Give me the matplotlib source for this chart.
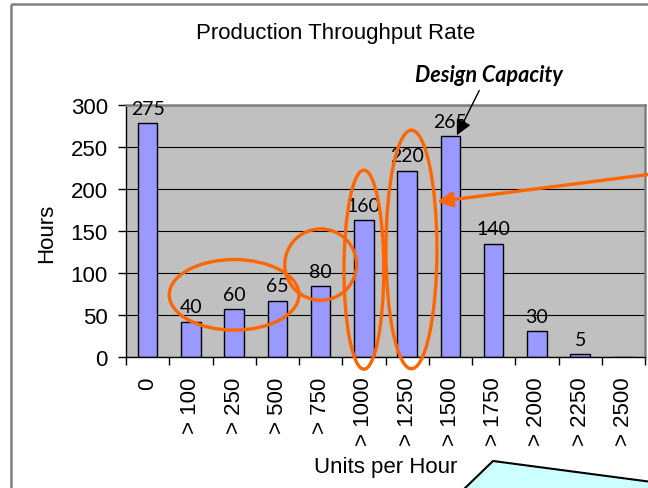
import matplotlib
matplotlib.use("Agg")
import matplotlib.pyplot as plt
from matplotlib.patches import Ellipse, Polygon, Rectangle
import numpy as np

categories = ["0", "> 100", "> 250", "> 500", "> 750", "> 1000", "> 1250",
              "> 1500", "> 1750", "> 2000", "> 2250", "> 2500"]
hours = [278, 42, 57, 67, 84, 163, 222, 263, 135, 31, 3, 0]
value_labels = ["275", "40", "60", "65", "80", "160", "220", "265", "140", "30", "5", ""]
yticks = [0, 50, 100, 150, 200, 250, 300]

W, H = 648, 489
fig = plt.figure(figsize=(W / 100, H / 100), dpi=100)
fig.patch.set_facecolor("white")

# overlay in pixel coordinates for decorations outside the plot
ov = fig.add_axes([0, 0, 1, 1], zorder=0)
ov.set_xlim(0, W)
ov.set_ylim(H, 0)
ov.axis("off")
ov.add_patch(Rectangle((11, 5), 700, 600, fill=False, edgecolor="#808080", lw=1.8, clip_on=False))
ov.add_patch(Polygon([(462, 492), (493, 462), (652, 483), (652, 492)], closed=True,
                     facecolor="#ccffff", edgecolor="black", lw=1.5, clip_on=False))

left, right, top, bottom = 126, 645, 106, 358
ax = fig.add_axes([left / W, 1 - bottom / H, (right - left) / W, (bottom - top) / H], zorder=2)
ax.set_facecolor("#c0c0c0")
x = np.arange(len(categories))
ax.bar(x, hours, width=0.45, color="#9999ff", edgecolor="black", linewidth=1.0, zorder=2)
ax.set_xlim(-0.5, len(categories) - 0.5)
ax.set_ylim(0, 300)
ax.set_axisbelow(True)
ax.yaxis.grid(True, color="black", linewidth=0.8)

for xi, h, lab in zip(x, hours, value_labels):
    if lab:
        ax.annotate(lab, (xi, h), xytext=(0, 4.5), textcoords="offset points",
                    ha="center", va="bottom", fontsize=14, family="Lato", zorder=4)

ax.set_yticks(yticks)
ax.set_yticklabels([str(v) for v in yticks], fontsize=16, family="Liberation Sans")
ax.set_xticks(x)
ax.set_xticklabels(categories, rotation=90, fontsize=16, family="Liberation Sans")
ax.set_xticks(np.arange(-0.5, len(categories), 1), minor=True)
ax.tick_params(axis="x", which="major", length=0, pad=14)
ax.tick_params(axis="x", which="minor", length=6, width=1, color="black", direction="out")
ax.tick_params(axis="y", length=6, width=1, color="black", direction="out", pad=7)

for s in ["left", "bottom"]:
    ax.spines[s].set_color("black")
    ax.spines[s].set_linewidth(1.0)
for s in ["top", "right"]:
    ax.spines[s].set_color("#808080")
    ax.spines[s].set_linewidth(1.8)

fig.text(336 / W, 1 - 34 / H, "Production Throughput Rate", ha="center", va="center",
         fontsize=16, family="Liberation Sans")
fig.text(47 / W, 1 - 233 / H, "Hours", ha="center", va="center", rotation=90,
         fontsize=16, family="Liberation Sans")
fig.text(386 / W, 1 - 468 / H, "Units per Hour", ha="center", va="center",
         fontsize=16, family="Liberation Sans")

orange = "#ff6600"
ellipses = [(2.0, 74, 3.0, 84), (4.0, 110, 1.66, 85), (5.0, 104, 0.92, 237), (6.1, 128, 1.18, 284)]
for cx, cy, w, h in ellipses:
    ax.add_patch(Ellipse((cx, cy), w, h, fill=False, edgecolor=orange, lw=2.4,
                         clip_on=False, zorder=5))

ax.annotate("", xy=(6.69, 185), xycoords="data",
            xytext=(1.0, 1 - 175.5 / H), textcoords="figure fraction",
            arrowprops=dict(arrowstyle="-|>,head_length=0.9,head_width=0.45",
                            color=orange, lw=2.4, shrinkA=0, shrinkB=0),
            annotation_clip=False, zorder=6)

ax.annotate("Design Capacity", xy=(7.15, 264), xycoords="data",
            xytext=(7.9, 336), textcoords="data", ha="center", va="center",
            fontsize=15.5, family="Lato", fontweight="bold", fontstyle="italic",
            arrowprops=dict(arrowstyle="-|>,head_length=0.6,head_width=0.3",
                            color="black", lw=1.0, shrinkA=2, shrinkB=0,
                            relpos=(0.45, 0.0)),
            annotation_clip=False, zorder=6)

fig.savefig("out.png", dpi=100)
